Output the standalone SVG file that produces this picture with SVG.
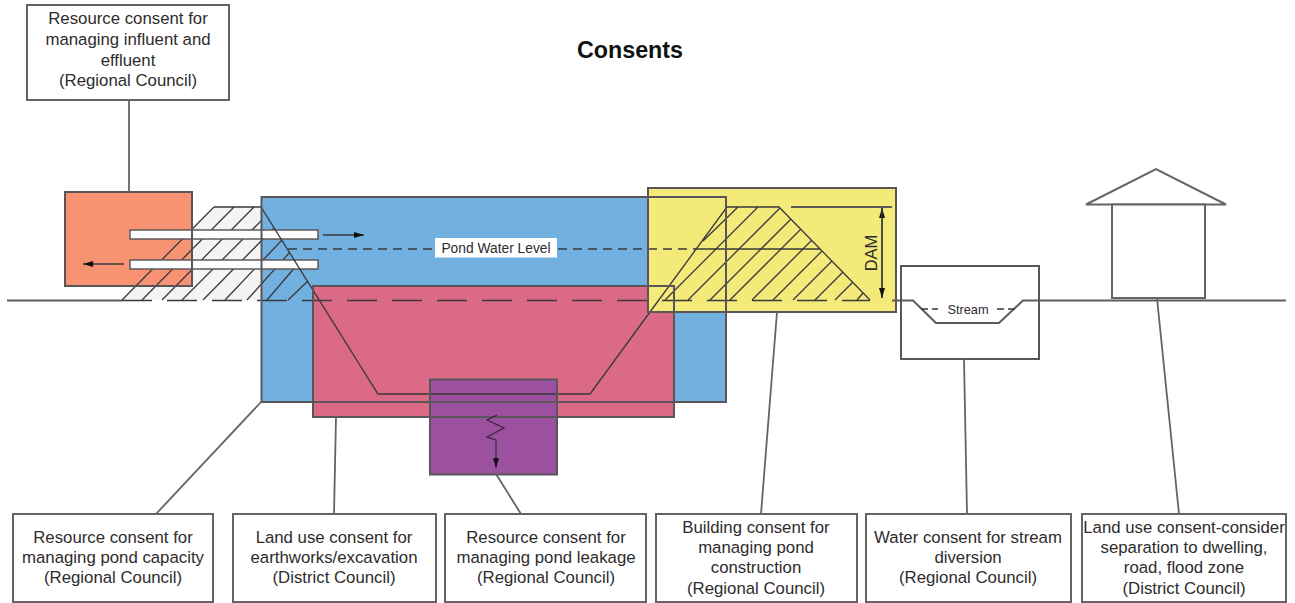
<svg xmlns="http://www.w3.org/2000/svg" width="1295" height="603" viewBox="0 0 1295 603">
<style>
text{font-family:"Liberation Sans",Arial,sans-serif;fill:#2e2c2c;text-anchor:middle}
.t{font-size:16.800px}
.box{fill:#fff;stroke:#686363;stroke-width:2}
.o{fill:none;stroke:#5a5558;stroke-width:2}
.l{fill:none;stroke:#3a383c;stroke-width:1.300}
.g{fill:none;stroke:#5f5a5a;stroke-width:2}
.lead{fill:none;stroke:#686363;stroke-width:1.800}
</style>
<defs>
<marker id="a" markerWidth="12" markerHeight="8" refX="10" refY="3" orient="auto" markerUnits="userSpaceOnUse"><path d="M0,0L10,3L0,6z" fill="#111"/></marker>
</defs>
<rect width="1295" height="603" fill="#fff"/>
<g id="zones">
<path d="M214,207H261L313,290L288,300H122Z" fill="#f4f4f4"/>
<rect x="261.500" y="197" width="464.500" height="205" fill="#72b0e0"/>
<rect x="65" y="192" width="127" height="94" fill="#f79273"/>
<rect x="313" y="286" width="361" height="131" fill="#db6a87"/>
<rect x="648" y="188" width="248" height="124" fill="#f3ea7a"/>
<rect x="430" y="379.500" width="127" height="95" fill="#9b51a0"/>
<rect x="901" y="266" width="138" height="93" fill="#fff"/>
</g>
<g id="hatch-left">
<path class="l" d="M214,207H261M214,207L122,300M234,207L142,300M254,207L162,300M262,220L182,300M274,228L203,300M282,240L225,300M290,252L247,300M297,265L267,300M308,281L288,300"/>
</g>
<g id="pipes">
<rect x="130" y="230" width="188" height="9" fill="#fff" stroke="#5f5a5a" stroke-width="1.500"/>
<rect x="130" y="260" width="188" height="9" fill="#fff" stroke="#5f5a5a" stroke-width="1.500"/>
</g>
<g id="hatch-dam">
<path class="l" d="M727,207H779L870,300M727,207L650,312M738,207L703,241M758,207L665,300M780,208L688,300M791,219L710,300M801,229L730,300M812,240L752,300M822,251L773,300M832,261L793,300M843,272L815,300M853,282L835,300M863,293L857,300"/>
</g>
<g id="pond">
<path class="l" d="M261,207L378,394H590L650,312"/>
<path class="g" d="M791,207H892" stroke-width="1.600"/>
</g>
<g id="levels">
<path class="g" d="M7,300.500H122"/>
<path class="l" d="M122,300.500H870" stroke-width="1.500" stroke-dasharray="30 15"/>
<path class="l" d="M288,249H697" stroke-dasharray="9 6"/>
<path class="l" d="M697,249H820"/>
<path class="g" d="M892,300.500H913L936,323H999L1023,300.500H1286"/>
<path class="l" d="M921,309H938M997,309H1015" stroke-dasharray="7 4"/>
</g>
<g id="outlines">
<rect class="o" x="261.500" y="197" width="464.500" height="205"/>
<rect class="o" x="65" y="192" width="127" height="94"/>
<rect class="o" x="313" y="286" width="361" height="131"/>
<rect class="o" x="648" y="188" width="248" height="124"/>
<rect class="o" x="430" y="379.500" width="127" height="95"/>
<rect class="o" x="901" y="266" width="138" height="93"/>
</g>
<g id="flows">
<path class="l" d="M323,235H364" marker-end="url(#a)"/>
<path class="l" d="M124,264H83" marker-end="url(#a)"/>
<path fill="none" stroke="#3a2040" stroke-width="1.200" d="M497,415L487,420L504,428L487,437L496,440"/>
<path class="l" d="M496,440V468" marker-end="url(#a)"/>
<path class="l" d="M882,298V208" marker-end="url(#a)"/>
<path class="l" d="M882,208V298" marker-end="url(#a)"/>
</g>
<g id="water-label">
<rect x="435" y="238" width="122" height="19.500" fill="#fff"/>
<text x="496" y="253" font-size="13.800">Pond Water Level</text>
</g>
<text x="630" y="58" font-size="23.300" font-weight="bold" style="fill:#111">Consents</text>
<text transform="translate(877,253) rotate(-90)" font-size="16.500">DAM</text>
<text x="968" y="313.500" font-size="12.800">Stream</text>
<g id="house">
<path d="M1086,204.500L1156,169L1226,204.500Z" fill="#fff" stroke="#686363" stroke-width="2"/>
<rect x="1112" y="204.500" width="93" height="93.500" fill="#fff" stroke="#686363" stroke-width="2"/>
</g>
<g id="connectors">
<path class="lead" d="M129,100V192"/>
<path class="lead" d="M156,514L261,402"/>
<path class="lead" d="M336,417L334,514"/>
<path class="lead" d="M496,474L521,514"/>
<path class="lead" d="M777,312L761,514"/>
<path class="lead" d="M964,359L967,514"/>
<path class="lead" d="M1157,298L1179,514"/>
</g>
<g id="n-influent"><rect class="box" x="27" y="5" width="202" height="95"/>
<text class="t" x="128" y="24">Resource consent for</text><text class="t" x="128" y="45">managing influent and</text><text class="t" x="128" y="66">effluent</text><text class="t" x="128" y="86">(Regional Council)</text></g>
<g id="n-capacity"><rect class="box" x="13" y="514" width="200" height="88"/>
<text class="t" x="113" y="543">Resource consent for</text><text class="t" x="113" y="563">managing pond capacity</text><text class="t" x="113" y="583">(Regional Council)</text></g>
<g id="n-earthworks"><rect class="box" x="233" y="514" width="203" height="88"/>
<text class="t" x="334" y="543">Land use consent for</text><text class="t" x="334" y="563">earthworks/excavation</text><text class="t" x="334" y="583">(District Council)</text></g>
<g id="n-leakage"><rect class="box" x="445" y="514" width="201" height="88"/>
<text class="t" x="546" y="543">Resource consent for</text><text class="t" x="546" y="563">managing pond leakage</text><text class="t" x="546" y="583">(Regional Council)</text></g>
<g id="n-building"><rect class="box" x="656" y="514" width="201" height="88"/>
<text class="t" x="756" y="533">Building consent for</text><text class="t" x="756" y="553">managing pond</text><text class="t" x="756" y="573">construction</text><text class="t" x="756" y="594">(Regional Council)</text></g>
<g id="n-water"><rect class="box" x="866" y="514" width="205" height="88"/>
<text class="t" x="968" y="543">Water consent for stream</text><text class="t" x="968" y="563">diversion</text><text class="t" x="968" y="583">(Regional Council)</text></g>
<g id="n-landuse"><rect class="box" x="1082" y="514" width="204" height="88"/>
<text class="t" x="1184" y="533">Land use consent-consider</text><text class="t" x="1184" y="553">separation to dwelling,</text><text class="t" x="1184" y="573">road, flood zone</text><text class="t" x="1184" y="594">(District Council)</text></g>
</svg>
